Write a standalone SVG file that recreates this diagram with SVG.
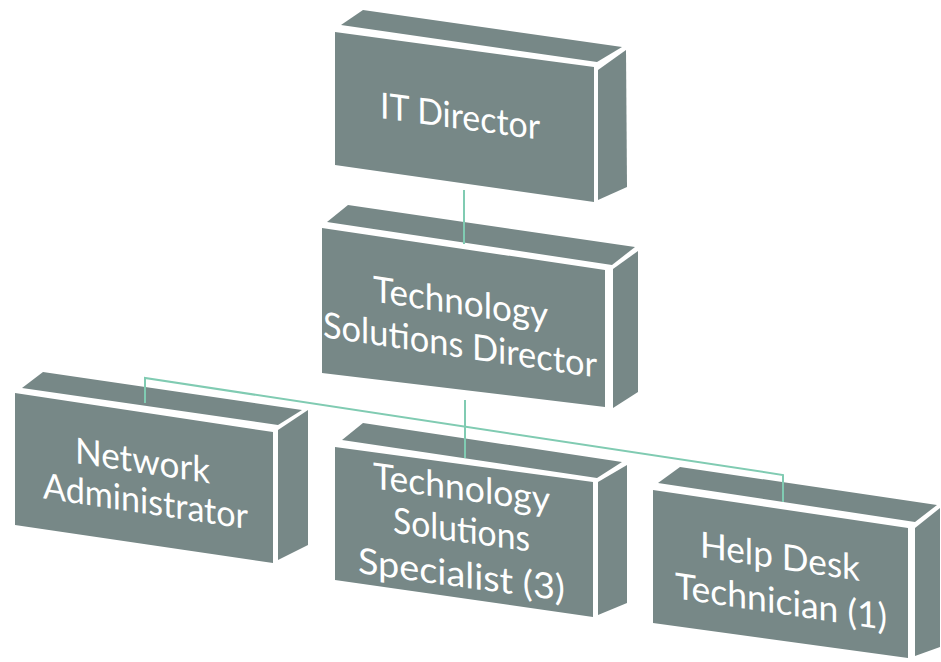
<svg xmlns="http://www.w3.org/2000/svg" width="941" height="662" viewBox="0 0 941 662">
<style>
.face{fill:#778887}
.lbl{font-family:Lato,"Liberation Sans",sans-serif;font-size:36px;fill:#ffffff}
.conn{stroke:#80cbb2;stroke-width:2;fill:none}
</style>
<rect width="941" height="662" fill="#ffffff"/>
<g id="it-director">
<polygon class="face" points="341,25 363,10 622,47 597,62"/>
<polygon class="face" points="598,70 626,50 627,187 598,200"/>
<polygon class="face" points="335,32 594,67 594,202 335,165"/>
<text class="lbl" transform="matrix(1 0.1351 0 1 335 32)" x="45" y="80" textLength="160" lengthAdjust="spacingAndGlyphs">IT Director</text>
</g>
<g id="tech-solutions-director">
<polygon class="face" points="327,222 348,205 635,247 612,265"/>
<polygon class="face" points="613,269 638,251 638,392 613,408"/>
<polygon class="face" points="322,228 605,270 605,407 322,373"/>
<text class="lbl" transform="matrix(1 0.148 0 1 322 228)" x="51" y="66" textLength="175" lengthAdjust="spacingAndGlyphs">Technology</text>
<text class="lbl" transform="matrix(1 0.148 0 1 322 228)" x="1" y="109" textLength="274" lengthAdjust="spacingAndGlyphs">Solutions Director</text>
</g>
<g id="network-administrator">
<polygon class="face" points="22,388 43,372 302,410 278,425"/>
<polygon class="face" points="278,430 308,410 308,545 278,560"/>
<polygon class="face" points="15,393 273,432 273,563 15,525"/>
<text class="lbl" transform="matrix(1 0.151 0 1 15 393)" x="60" y="61" textLength="135" lengthAdjust="spacingAndGlyphs">Network</text>
<text class="lbl" transform="matrix(1 0.151 0 1 15 393)" x="28" y="101" textLength="205" lengthAdjust="spacingAndGlyphs">Administrator</text>
</g>
<g id="tech-solutions-specialist">
<polygon class="face" points="342,440 363,423 622,462 597,478"/>
<polygon class="face" points="598,482 627,465 627,603 598,615"/>
<polygon class="face" points="335,447 593,482 593,617 335,580"/>
<text class="lbl" transform="matrix(1 0.1357 0 1 335 447)" x="38" y="36" textLength="177" lengthAdjust="spacingAndGlyphs">Technology</text>
<text class="lbl" transform="matrix(1 0.1357 0 1 335 447)" x="58" y="78" textLength="137" lengthAdjust="spacingAndGlyphs">Solutions</text>
<text class="lbl" transform="matrix(1 0.1357 0 1 335 447)" x="23" y="123" textLength="207" lengthAdjust="spacingAndGlyphs">Specialist (3)</text>
</g>
<g id="help-desk-technician">
<polygon class="face" points="658,483 680,467 937,505 915,522"/>
<polygon class="face" points="915,528 940,508 940,647 915,656"/>
<polygon class="face" points="653,490 908,528 908,658 653,623"/>
<text class="lbl" transform="matrix(1 0.149 0 1 653 490)" x="47" y="60" textLength="160" lengthAdjust="spacingAndGlyphs">Help Desk</text>
<text class="lbl" transform="matrix(1 0.149 0 1 653 490)" x="22" y="105" textLength="212" lengthAdjust="spacingAndGlyphs">Technician (1)</text>
</g>
<g id="connectors">
<path class="conn" d="M464,190 V244"/>
<path class="conn" d="M465,400 V458"/>
<path class="conn" d="M145,403 V378 L783,475 V502"/>
</g>
</svg>
